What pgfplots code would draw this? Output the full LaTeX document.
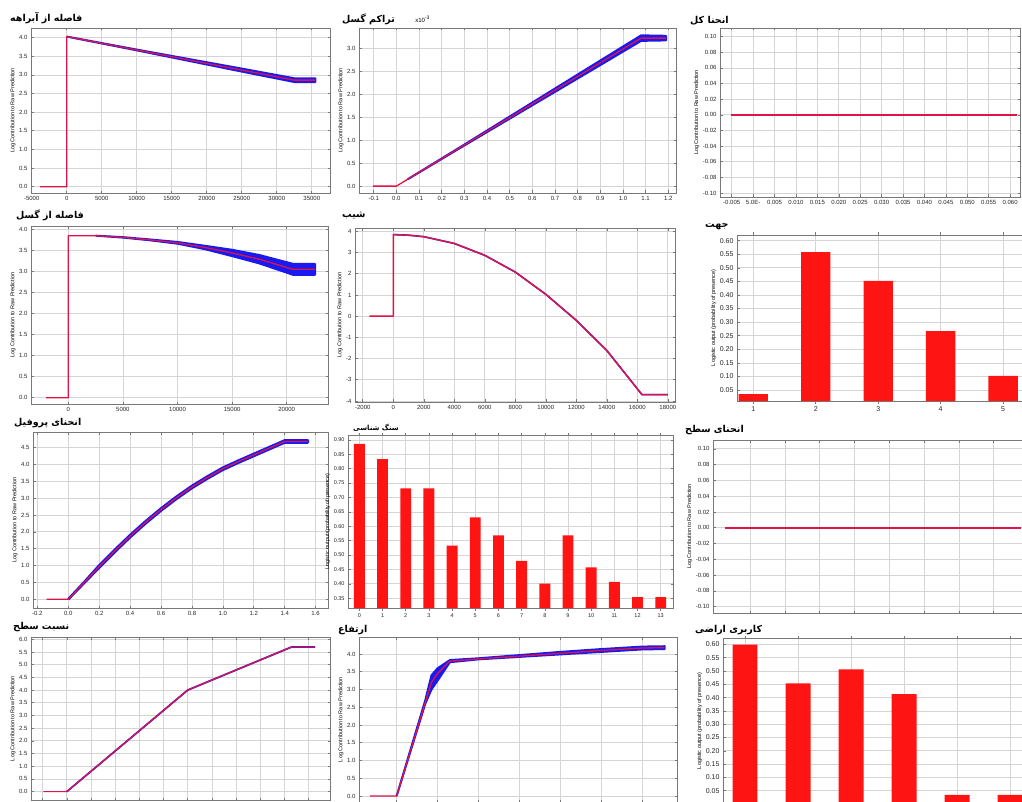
\documentclass[border=0pt]{standalone}
\usepackage{fontspec}
\setmainfont{Liberation Sans}
\newfontfamily\fa[Script=Arabic]{DejaVu Sans}
\TeXXeTstate=1
\usepackage{pgfplots}
\pgfplotsset{compat=1.18}

\definecolor{lred}{RGB}{222,20,70}
\definecolor{band}{RGB}{25,25,240}
\definecolor{barred}{RGB}{255,20,20}
\definecolor{gridc}{RGB}{212,212,212}
\definecolor{framec}{RGB}{120,120,120}

\pgfplotsset{
  panel/.style={
    scale only axis, anchor=north west,
    grid=major, major grid style={gridc, line width=0.7pt},
    axis line style={framec, line width=0.9pt},
    tick style={framec, line width=0.6pt}, major tick length=2.5pt,
    tick align=inside,
    tick label style={font=\fontsize{6}{7}\selectfont, text=black!85},
    /pgf/number format/assume math mode=true,
    /pgf/number format/1000 sep={},
    scaled ticks=false,
    every axis title shift=0pt,
    title style={at={(0,1)}, anchor=base west, inner sep=0pt,
      font=\fontsize{9.5}{10}\selectfont\fa\bfseries},
    ylabel style={font=\fontsize{5.5}{6}\selectfont, inner sep=0pt},
  },
  lpanel/.style={panel, ylabel={Log Contribution to Raw Prediction}},
  bpanel/.style={panel, ylabel={Logistic output (probability of presence)},
    ybar, bar width=0.47,
    tick label style={font=\fontsize{7}{8}\selectfont},
    yticklabel style={/pgf/number format/.cd, fixed, fixed zerofill, precision=2}},
  redl/.style={lred, line width=1.3pt, line join=round, mark=none},
  blul/.style={band, line width=2.2pt, line join=round, mark=none},
  bandl/.style={band, fill=band, line width=2pt, line join=round, mark=none},
  bars/.style={fill=barred, draw=none},
  one/.style={yticklabel style={/pgf/number format/.cd, fixed, fixed zerofill, precision=1}},
  onex/.style={xticklabel style={/pgf/number format/.cd, fixed, fixed zerofill, precision=1}},
}

\begin{document}
\begin{tikzpicture}
\useasboundingbox (0,0) rectangle (1022pt,-802pt);

% row 1
\begin{axis}[lpanel, one, at={(31pt,-28pt)}, width=299pt, height=165pt,
  xmin=-5100, xmax=37600, ymin=-0.17, ymax=4.26,
  xtick={-5000,0,5000,10000,15000,20000,25000,30000,35000},
  ytick={0,0.5,1,1.5,2,2.5,3,3.5,4},
  title={\beginR فاصله از آبراهه\endR}, title style={xshift=-21pt, yshift=6pt}]
\addplot[bandl] coordinates {(0,4.03) (10000,3.68) (15000,3.51) (20000,3.34)
  (25000,3.17) (32500,2.91) (35500,2.91) (35500,2.81) (32500,2.81)
  (25000,3.09) (20000,3.28) (15000,3.47) (10000,3.66) (0,4.03)};
\addplot[redl] coordinates {(-3800,0) (0,0) (0,4.03) (32500,2.86) (35500,2.86)};
\end{axis}

\begin{axis}[lpanel, one, onex, at={(359pt,-28pt)}, width=317pt, height=165pt,
  xmin=-0.165, xmax=1.234, ymin=-0.15, ymax=3.44,
  xtick={-0.1,0,0.1,0.2,0.3,0.4,0.5,0.6,0.7,0.8,0.9,1.0,1.1,1.2},
  ytick={0,0.5,1,1.5,2,2.5,3},
  title={\beginR تراکم گسل\endR}, title style={xshift=-17pt, yshift=5pt},
  extra description/.code={\node[anchor=base west, inner sep=0pt,
    font=\fontsize{6}{7}\selectfont] at (0.177,1.036) {x10\textsuperscript{-3}};}]
\addplot[bandl] coordinates {(0.05,0.149) (0.3,0.904) (0.6,1.819) (0.9,2.733)
  (1.08,3.28) (1.19,3.27) (1.19,3.17) (1.08,3.16) (0.9,2.633) (0.6,1.759)
  (0.3,0.884) (0.05,0.149)};
\addplot[redl] coordinates {(-0.104,0) (0,0) (1.08,3.22) (1.19,3.22)};
\end{axis}

\begin{axis}[lpanel, at={(720pt,-28pt)}, width=300pt, height=169pt,
  xmin=-0.00773, xmax=0.0623, ymin=-0.105, ymax=0.111,
  xtick={-0.005,0,0.005,0.01,0.015,0.02,0.025,0.03,0.035,0.04,0.045,0.05,0.055,0.06},
  xticklabels={-0.005,5.0E-,0.005,0.010,0.015,0.020,0.025,0.030,0.035,0.040,0.045,0.050,0.055,0.060},
  ytick={-0.1,-0.08,-0.06,-0.04,-0.02,0,0.02,0.04,0.06,0.08,0.1},
  yticklabel style={/pgf/number format/.cd, fixed, fixed zerofill, precision=2},
  title={\beginR انحنا کل\endR}, title style={xshift=-30pt, yshift=4pt}]
\addplot[redl, line width=1.5pt] coordinates {(-0.0052,0) (0.0615,0)};
\end{axis}

% row 2
\begin{axis}[lpanel, one, at={(31pt,-226pt)}, width=297pt, height=178pt,
  xmin=-3416, xmax=23780, ymin=-0.15, ymax=4.08,
  xtick={0,5000,10000,15000,20000},
  ytick={0,0.5,1,1.5,2,2.5,3,3.5,4},
  title={\beginR فاصله از گسل\endR}, title style={xshift=-15pt, yshift=7pt}]
\addplot[bandl] coordinates {(2500,3.85) (5000,3.815) (7500,3.76) (10000,3.70)
  (12500,3.61) (15000,3.515) (17500,3.39) (20580,3.18) (22590,3.18)
  (22590,2.92) (20580,2.92) (17500,3.19) (15000,3.365) (12500,3.53)
  (10000,3.66) (7500,3.74) (5000,3.805) (2500,3.85)};
\addplot[redl] coordinates {(-2040,0) (0,0) (0,3.85) (2500,3.85) (5000,3.81)
  (7500,3.75) (10000,3.68) (12500,3.57) (15000,3.44) (17500,3.29)
  (20580,3.05) (22590,3.05)};
\end{axis}

\begin{axis}[lpanel, at={(355pt,-228pt)}, width=320pt, height=174pt,
  xmin=-2511, xmax=18470, ymin=-4.05, ymax=4.16,
  xtick={-2000,0,2000,4000,6000,8000,10000,12000,14000,16000,18000},
  ytick={-4,-3,-2,-1,0,1,2,3,4},
  title={\beginR شیب\endR}, title style={xshift=-13pt, yshift=11pt}]
\addplot[blul, line width=1.6pt] coordinates {(0,3.85) (1000,3.82) (2000,3.75)
  (4000,3.43) (6000,2.87) (8000,2.08) (10000,1.03) (12000,-0.2)
  (14000,-1.62) (16300,-3.7) (18000,-3.7)};
\addplot[redl, line width=1.4pt] coordinates {(-1574,0) (0,0) (0,3.85) (1000,3.82) (2000,3.75)
  (4000,3.43) (6000,2.87) (8000,2.08) (10000,1.03) (12000,-0.2)
  (14000,-1.62) (16300,-3.7) (18000,-3.7)};
\end{axis}

\begin{axis}[bpanel, at={(737pt,-235pt)}, width=288pt, height=166pt,
  xmin=0.74, xmax=5.35, ymin=0.0095, ymax=0.621,
  xtick={1,2,3,4,5},
  ytick={0.05,0.1,0.15,0.2,0.25,0.3,0.35,0.4,0.45,0.5,0.55,0.6},
  title={\beginR جهت\endR}, title style={xshift=-32pt, yshift=7pt}]
\addplot[bars] coordinates {(1,0.035) (2,0.558) (3,0.452) (4,0.267) (5,0.102)};
\end{axis}

% row 3
\begin{axis}[lpanel, one, onex, at={(33pt,-432pt)}, width=295pt, height=176pt,
  xmin=-0.228, xmax=1.68, ymin=-0.26, ymax=4.96,
  xtick={-0.2,0,0.2,0.4,0.6,0.8,1.0,1.2,1.4,1.6},
  ytick={0,0.5,1,1.5,2,2.5,3,3.5,4,4.5},
  title={\beginR انحنای پروفیل\endR}, title style={xshift=-19pt, yshift=7pt}]
\addplot[bandl, line width=2.6pt] coordinates {(0,0) (0.1,0.49) (0.2,1.0) (0.3,1.46)
  (0.4,1.90) (0.5,2.31) (0.6,2.69) (0.7,3.04) (0.8,3.36) (0.9,3.64)
  (1.0,3.90) (1.1,4.11) (1.2,4.31) (1.3,4.51) (1.4,4.71) (1.55,4.71)
  (1.55,4.65) (1.4,4.65) (1.3,4.45) (1.2,4.25) (1.1,4.05) (1.0,3.84)
  (0.9,3.58) (0.8,3.30) (0.7,2.98) (0.6,2.63) (0.5,2.25) (0.4,1.84)
  (0.3,1.40) (0.2,0.94) (0.1,0.47) (0,0)};
\addplot[redl] coordinates {(-0.14,0) (0,0) (0.1,0.48) (0.2,0.97) (0.3,1.43)
  (0.4,1.87) (0.5,2.28) (0.6,2.66) (0.7,3.01) (0.8,3.33) (0.9,3.61)
  (1.0,3.87) (1.1,4.08) (1.2,4.28) (1.3,4.48) (1.4,4.68) (1.55,4.68)};
\end{axis}

\begin{axis}[bpanel, at={(348pt,-435pt)}, width=325pt, height=173pt,
  xmin=-0.49, xmax=13.53, ymin=0.316, ymax=0.917,
  xtick={0,1,2,3,4,5,6,7,8,9,10,11,12,13},
  ytick={0.35,0.4,0.45,0.5,0.55,0.6,0.65,0.7,0.75,0.8,0.85,0.9},
  tick label style={font=\fontsize{5.5}{6}\selectfont},
  title={\beginR سنگ شناسی\endR},
  title style={xshift=5pt, yshift=5pt, font=\fontsize{7}{8}\selectfont\fa\bfseries}]
\addplot[bars] coordinates {(0,0.886) (1,0.833) (2,0.732) (3,0.732) (4,0.533)
  (5,0.631) (6,0.568) (7,0.480) (8,0.401) (9,0.568) (10,0.457) (11,0.407)
  (12,0.354) (13,0.354)};
\end{axis}

\begin{axis}[lpanel, at={(713pt,-440pt)}, width=312pt, height=173pt,
  xmin=-0.066, xmax=8.9, ymin=-0.108, ymax=0.1112,
  xtick={1,2,3,4,5,6,7,8}, xticklabels={},
  ytick={-0.1,-0.08,-0.06,-0.04,-0.02,0,0.02,0.04,0.06,0.08,0.1},
  yticklabel style={/pgf/number format/.cd, fixed, fixed zerofill, precision=2},
  title={\beginR انحنای سطح\endR}, title style={xshift=-28pt, yshift=8pt}]
\addplot[redl, line width=1.7pt] coordinates {(0.28,0) (8.78,0)};
\end{axis}

% row 4
\begin{axis}[lpanel, one, at={(31pt,-637pt)}, width=299pt, height=163pt,
  xmin=-0.148, xmax=1.088, ymin=-0.33, ymax=6.09,
  xtick={-0.1,0,0.1,0.2,0.3,0.4,0.5,0.6,0.7,0.8,0.9,1.0}, xticklabels={},
  ytick={0,0.5,1,1.5,2,2.5,3,3.5,4,4.5,5,5.5,6},
  title={\beginR نسبت سطح\endR}, title style={xshift=-18pt, yshift=8pt}]
\addplot[blul, line width=1.8pt] coordinates {(0,0) (0.5,4.0) (0.93,5.7) (1.026,5.7)};
\addplot[redl, line width=1.2pt] coordinates {(-0.097,0) (0,0) (0.5,4.0) (0.93,5.7) (1.026,5.7)};
\end{axis}

\begin{axis}[lpanel, one, at={(359pt,-637pt)}, width=318pt, height=165pt,
  xmin=-0.92, xmax=6.85, ymin=-0.17, ymax=4.48,
  xtick={0,1,2,3,4,5,6}, xticklabels={},
  ytick={0,0.5,1,1.5,2,2.5,3,3.5,4},
  title={\beginR ارتفاع\endR}, title style={xshift=-21pt, yshift=5pt}]
\addplot[bandl] coordinates {(0,0) (0.7,2.7) (0.85,3.4) (1.0,3.6) (1.3,3.83)
  (2,3.88) (3,3.97) (4,4.06) (5,4.14) (6,4.21) (6.55,4.22) (6.55,4.14)
  (6,4.13) (5,4.06) (4,3.99) (3,3.92) (2,3.85) (1.3,3.77) (1.0,3.25)
  (0.85,3.0) (0.7,2.6) (0,0)};
\addplot[redl] coordinates {(-0.65,0) (0,0) (0.85,3.2) (1.0,3.45) (1.3,3.8)
  (2,3.86) (3,3.94) (4,4.02) (5,4.1) (6,4.17) (6.55,4.18)};
\end{axis}

\begin{axis}[bpanel, at={(723pt,-638pt)}, width=302pt, height=166pt,
  xmin=0.585, xmax=6.28, ymin=0, ymax=0.624,
  xtick={1,2,3,4,5,6}, xticklabels={},
  ytick={0.05,0.1,0.15,0.2,0.25,0.3,0.35,0.4,0.45,0.5,0.55,0.6},
  title={\beginR کاربری اراضی\endR}, title style={xshift=-28pt, yshift=6pt}]
\addplot[bars] coordinates {(1,0.599) (2,0.453) (3,0.506) (4,0.413) (5,0.034) (6,0.034)};
\end{axis}
\end{tikzpicture}
\end{document}
